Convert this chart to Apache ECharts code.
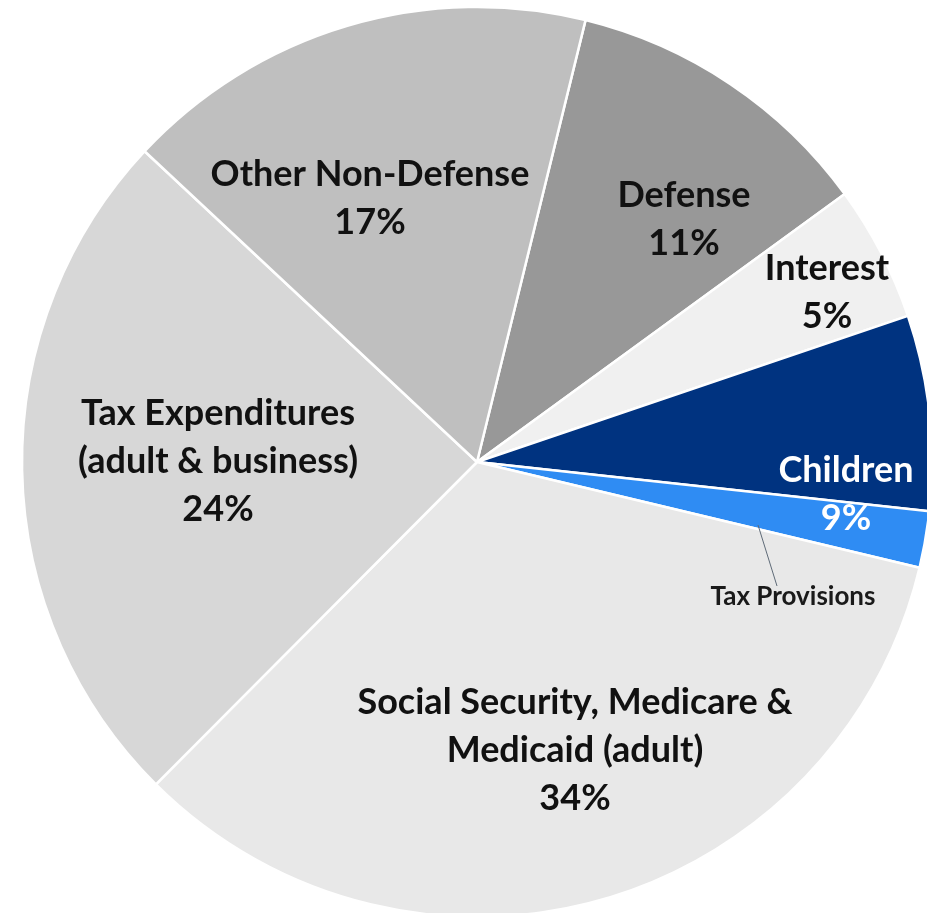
<!DOCTYPE html>
<html>
<head>
<meta charset="utf-8">
<script src="https://cdn.jsdelivr.net/npm/echarts@6/dist/echarts.min.js"></script>
<style>
html,body{margin:0;padding:0;background:#fff;}
#chart{width:927px;height:913px;}
</style>
</head>
<body>
<div id="chart"></div>
<script>
// Data (clockwise from the Defense slice)
const categories = ["Defense", "Interest", "Children", "Tax Provisions", "Social Security, Medicare &\nMedicaid (adult)", "Tax Expenditures\n(adult & business)", "Other Non-Defense"];
const values = [11.1, 4.8, 6.9, 2.0, 33.6, 24.4, 16.8];
const colors = ["#989898", "#f0f0f0", "#003380", "#2f8cf3", "#e8e8e8", "#d7d7d7", "#bfbfbf"];

// Label layout (text centres) — presentation only
const labelCenters = [[684, 219], [827, 292], [846, 494], [793, 597], [575, 750], [218, 461], [370, 198]];
const leaderLine = [[758, 525], [777, 586]];

const chart = echarts.init(document.getElementById('chart'), null, {renderer: 'canvas'});

const data = categories.map((name, i) => {
  const item = { name: name, value: values[i], itemStyle: { color: colors[i] } };
  if (name === "Tax Provisions") {
    item.label = { fontSize: 26, lineHeight: 28, color: '#1a1a1a', formatter: '{b}' };
  }
  if (name === "Children") {
    item.label = { color: '#ffffff' };
  }
  return item;
});

function labelText(p) {
  const i = p.dataIndex;
  let v = values[i];
  if (categories[i] === "Children") v = values[i] + values[i + 1];
  return p.name + '\n' + Math.round(v) + '%';
}

chart.setOption({
  animation: false,
  graphic: [{
    type: 'polyline',
    silent: true,
    z: 10,
    shape: { points: leaderLine },
    style: { stroke: '#5f6b78', lineWidth: 1, fill: null }
  }],
  series: [{
    type: 'pie',
    center: [477, 462],
    radius: 455,
    startAngle: 76.2,
    clockwise: true,
    avoidLabelOverlap: false,
    silent: true,
    itemStyle: { borderColor: '#ffffff', borderWidth: 2.5 },
    label: {
      show: true,
      position: 'inside',
      formatter: labelText,
      fontFamily: 'Lato',
      fontWeight: 'bold',
      fontSize: 36,
      lineHeight: 48,
      color: '#111111',
      align: 'center'
    },
    labelLine: { show: false },
    labelLayout: function (params) {
      const c = labelCenters[params.dataIndex];
      return { x: c[0], y: c[1], align: 'center', verticalAlign: 'middle' };
    },
    emphasis: { disabled: true },
    data: data
  }]
});
</script>
</body>
</html>
